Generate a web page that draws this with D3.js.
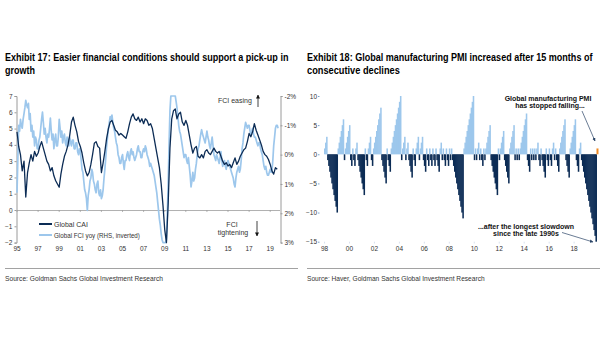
<!DOCTYPE html>
<html><head><meta charset="utf-8">
<script src="https://cdn.jsdelivr.net/npm/d3@7"></script>
<style>
body{margin:0;background:#fff;}
svg{display:block;}
text{font-family:'Liberation Sans Narrow','Arial Narrow','Liberation Sans',Arial,sans-serif;}
</style></head><body>
<svg id="c" width="605" height="341"></svg>
<script>
// ---------- DATA ----------
// Exhibit 17: Global CAI (LHS), bimonthly from Jan 1995
const caiValues = [
 4.8,3.9,3.4,2.4,3.0,0.8,
 2.3,2.9,3.4,3.0,3.6,3.3,
 3.5,3.9,4.2,3.8,3.4,3.0,
 2.8,2.4,2.6,2.1,1.8,1.6,
 1.4,2.2,2.8,3.3,3.6,4.0,
 4.6,5.4,5.7,5.2,4.8,4.2,
 3.9,3.5,2.9,2.4,2.1,2.3,
 2.8,3.4,4.1,4.2,3.9,3.8,
 2.3,2.9,3.6,4.4,5.0,5.4,
 5.5,5.2,4.9,4.8,4.6,4.7,
 4.6,4.5,4.4,4.8,5.3,5.7,
 5.9,5.6,5.5,5.7,5.4,5.6,
 5.3,5.6,5.5,5.2,5.3,5.0,
 4.4,3.8,3.2,2.6,1.6,0.3,
 -1.2,-2.0,0.4,3.8,5.6,6.1,
 6.2,5.6,5.9,6.0,5.4,5.2,
 5.5,5.2,4.6,4.0,3.5,3.8,
 3.9,3.3,3.2,3.4,3.2,3.6,
 3.7,3.5,3.4,3.6,3.8,3.6,
 3.5,3.6,3.3,3.0,2.8,2.9,
 2.7,2.8,2.6,2.9,3.2,2.8,
 3.0,3.3,3.5,3.7,3.8,4.2,
 4.7,4.5,4.8,5.3,4.9,4.6,
 4.3,4.0,3.6,3.4,3.3,3.1,
 2.8,2.4,2.2,2.6,2.5
];
// Global FCI yoy (RHS, inverted, %), monthly from Jan 1995
const fciValues = [
 1.3,0.1,-1.0,-0.8,-1.2,-1.0,-0.9,-1.2,-1.4,-1.6,-1.85,-1.7,
 -1.6,-1.75,-1.2,-1.4,-0.8,-1.0,-0.6,-0.8,-0.3,-0.6,-0.5,-0.2,
 -0.2,-0.5,-0.6,-0.9,-1.2,-1.45,-1.1,-0.7,-0.9,-0.6,-0.4,-0.7,
 -0.6,-0.9,-1.25,-0.8,-0.5,-0.7,-0.2,-0.5,-0.7,-0.3,-0.3,-0.6,
 -1.2,-0.9,-0.6,-0.8,-0.4,-0.6,-0.7,-0.4,-0.3,-0.6,-0.5,-0.3,
 -0.6,-0.4,-0.3,-0.5,-0.5,-0.2,-0.2,-0.4,-0.4,-0.1,0.0,-0.2,
 -0.1,0.2,0.5,0.6,0.9,1.2,1.3,1.5,1.9,1.4,1.2,0.9,
 0.8,0.5,0.6,0.9,1.0,1.2,1.3,1.0,0.9,1.3,1.4,1.2,
 1.5,1.4,1.2,0.8,0.5,0.1,-0.3,-0.6,-0.9,-1.1,-1.3,-1.2,
 -1.35,-1.1,-0.9,-0.8,-0.6,-0.4,-0.3,0.0,0.1,0.3,0.3,0.1,
 0.0,0.3,0.5,0.2,0.2,0.0,-0.1,0.1,0.2,-0.1,-0.2,0.0,
 -0.1,0.1,0.2,0.1,0.0,-0.2,-0.3,-0.1,-0.1,0.1,0.1,-0.1,
 -0.2,-0.1,-0.3,-0.2,0.0,0.1,0.2,0.4,0.3,0.4,0.5,0.6,
 0.7,0.9,1.1,1.3,1.6,1.9,2.2,2.4,2.7,2.9,3.0,3.0,
 3.0,3.0,2.9,2.0,1.0,-0.4,-1.5,-2.0,-2.0,-2.0,-2.0,-2.0,
 -2.0,-1.8,-1.6,-1.3,-1.0,-0.8,-0.7,-0.5,-0.3,-0.1,0.1,0.0,
 0.0,0.2,0.3,0.1,0.4,0.7,1.1,0.9,0.6,0.9,0.8,0.5,
 0.3,0.0,-0.2,-0.3,-0.5,-0.7,-0.85,-0.7,-0.6,-0.5,-0.4,-0.6,
 -0.8,-0.6,-0.5,-0.3,-0.2,-0.4,-0.6,-0.3,0.0,0.1,0.2,0.0,
 0.1,0.2,0.3,0.1,-0.1,0.2,0.4,0.3,0.2,0.4,0.5,0.3,
 0.2,0.3,0.4,0.5,0.6,0.7,0.8,1.0,1.1,0.8,0.6,0.5,
 0.4,0.6,0.5,0.2,-0.2,-0.4,-0.7,-0.9,-1.1,-1.0,-0.9,-1.0,
 -1.0,-0.8,-0.7,-0.8,-0.9,-0.7,-0.6,-0.6,-0.5,-0.4,-0.3,-0.4,
 -0.4,-0.2,-0.1,0.0,0.2,0.4,0.5,0.4,0.6,0.7,0.7,0.6,
 0.5,0.6,0.6,0.2,-0.3,-0.6,-0.9,-1.0,-1.0,-0.9
];
const caiTicks = [-2,-1,0,1,2,3,4,5,6,7];
const fciTicks = [-2,-1,0,1,2,3];
const leftYearLabels = ["95","97","99","01","03","05","07","09","11","13","15","17","19"];

// Exhibit 18: signed run lengths of consecutive monthly increases (+) / declines (-) in global manufacturing PMI, from Jan 1998
const pmiRuns = [
 3,-10,6,-1,5,-2,1,-2,2,-7,1,-2,3,-2,8,-5,1,-3,10,-1,3,-1,2,-4,
 1,-2,3,-1,3,-3,
 1,-2,1,-2,1,-2,1,-3,2,-1,1,-2,1,-2,1,-1,1,
 -11,10,
 -1,1,-1,2,-1,1,-2,1,-1,
 5,-7,1,-1,4,-5,5,
 -1,1,-1,1,-1,
 7,-3,
 1,-1,1,-1,1,-1,2,-2,1,-4,
 1,-2,1,-2,2,-1,1,-3,
 6,-4,6,-3,2,-15,1
];
const pmiTicks = [10,5,0,-5,-10,-15];
const pmiYearLabels = ["98","00","02","04","06","08","10","12","14","16","18"];

// ---------- DRAW ----------
const svg = d3.select("#c");
const navy = "#0c2c55", light = "#9dc7ec", axisCol = "#9a9a9a", txt = "#333";

// place a text and squeeze it horizontally to a target width
function fitText(parent, x, y, s, w, size, weight, fill){
  const t = parent.append("text").attr("x",0).attr("y",0).attr("font-size",size)
    .attr("font-weight",weight).attr("fill",fill).text(s);
  const nat = t.node().getComputedTextLength();
  t.attr("transform",`translate(${x},${y}) scale(${w/nat},1)`);
  return t;
}
fitText(svg,5,60.5,"Exhibit 17: Easier financial conditions should support a pick-up in",284,10,"bold","#000");
fitText(svg,5,73.5,"growth",30,10,"bold","#000");
fitText(svg,307,61,"Exhibit 18: Global manufacturing PMI increased after 15 months of",286,10,"bold","#000");
fitText(svg,307,74,"consecutive declines",93,10,"bold","#000");

svg.append("line").attr("x1",5).attr("x2",298).attr("y1",268.5).attr("y2",268.5).attr("stroke","#8a8a8a").attr("stroke-width",0.8);
svg.append("line").attr("x1",307).attr("x2",600).attr("y1",268.5).attr("y2",268.5).attr("stroke","#8a8a8a").attr("stroke-width",0.8);
fitText(svg,5,280.5,"Source: Goldman Sachs Global Investment Research",158,7,"normal","#333");
fitText(svg,307,280.5,"Source: Haver, Goldman Sachs Global Investment Research",178,7,"normal","#333");

// ===== Left chart =====
const xL = d3.scaleTime().domain([new Date(1995,0,1), new Date(2019,10,1)]).range([17,279]);
const yL = d3.scaleLinear().domain([-2,7]).range([242.6,96]);
const yR = d3.scaleLinear().domain([-2,3]).range([96,242.6]);
const caiDates = caiValues.map((v,i)=>new Date(1995,2*i,1));
const fciDates = fciValues.map((v,i)=>new Date(1995,i,1));

const gL = svg.append("g");
const axL = gL.append("g").attr("transform","translate(16.5,0)").call(d3.axisLeft(yL).tickValues(caiTicks).tickSize(2).tickFormat(d3.format("d")));
axL.select(".domain").attr("stroke",axisCol);
axL.selectAll(".tick line").attr("stroke",axisCol);
axL.selectAll("text").attr("font-size",6.5).attr("fill",txt).attr("x",-4).attr("font-family",null);
const axR = gL.append("g").attr("transform","translate(280.5,0)").call(d3.axisRight(yR).tickValues(fciTicks).tickSize(2).tickFormat(d=>d+"%"));
axR.select(".domain").attr("stroke",axisCol);
axR.selectAll(".tick line").attr("stroke",axisCol);
axR.selectAll("text").attr("font-size",6.5).attr("fill",txt).attr("x",4).attr("font-family",null);
gL.append("line").attr("x1",17).attr("x2",280).attr("y1",yL(0)+0.5).attr("y2",yL(0)+0.5).attr("stroke",axisCol).attr("stroke-width",0.8);
const yearTickDates = leftYearLabels.map((s,i)=>new Date(1995+2*i,0,1));
gL.selectAll(".zt").data(yearTickDates).enter().append("line")
  .attr("x1",d=>xL(d)).attr("x2",d=>xL(d)).attr("y1",yL(0)).attr("y2",yL(0)+2).attr("stroke",axisCol).attr("stroke-width",0.7);
gL.selectAll(".xl").data(leftYearLabels).enter().append("text")
  .attr("x",(d,i)=>xL(yearTickDates[i])).attr("y",251).attr("text-anchor","middle")
  .attr("font-size",6.5).attr("fill",txt).text(d=>d);
const lineF = d3.line().x((d,i)=>xL(fciDates[i])).y(d=>yR(d));
const lineC = d3.line().x((d,i)=>xL(caiDates[i])).y(d=>yL(d));
gL.append("path").datum(fciValues).attr("d",lineF).attr("fill","none").attr("stroke",light).attr("stroke-width",1.7).attr("stroke-linejoin","round");
gL.append("path").datum(caiValues).attr("d",lineC).attr("fill","none").attr("stroke",navy).attr("stroke-width",1.3).attr("stroke-linejoin","round");
gL.append("line").attr("x1",39).attr("x2",52).attr("y1",224).attr("y2",224).attr("stroke",navy).attr("stroke-width",2);
gL.append("line").attr("x1",39).attr("x2",52).attr("y1",235).attr("y2",235).attr("stroke",light).attr("stroke-width",2);
gL.append("text").attr("x",54).attr("y",226.5).attr("font-size",7).attr("fill",txt).text("Global CAI");
fitText(gL,54,237.5,"Global FCI yoy (RHS, inverted)",86,7,"normal",txt);
const defs = svg.append("defs");
defs.append("marker").attr("id","ah").attr("viewBox","0 0 10 10").attr("refX",9).attr("refY",5)
  .attr("markerWidth",5).attr("markerHeight",5).attr("orient","auto")
  .append("path").attr("d","M0,0L10,5L0,10z").attr("fill","#111");
defs.append("marker").attr("id","ah2").attr("viewBox","0 0 10 10").attr("refX",9).attr("refY",5)
  .attr("markerWidth",5).attr("markerHeight",5).attr("orient","auto")
  .append("path").attr("d","M0,0L10,5L0,10z").attr("fill","#2a4466");
gL.append("text").attr("x",218).attr("y",103).attr("font-size",7).attr("fill",txt).text("FCI easing");
gL.append("line").attr("x1",258).attr("x2",258).attr("y1",107).attr("y2",95).attr("stroke","#111").attr("stroke-width",0.8).attr("marker-end","url(#ah)");
gL.append("text").attr("x",232).attr("y",227).attr("font-size",7).attr("fill",txt).attr("text-anchor","middle").text("FCI");
gL.append("text").attr("x",233).attr("y",234.5).attr("font-size",7).attr("fill",txt).attr("text-anchor","middle").text("tightening");
gL.append("line").attr("x1",257).attr("x2",257).attr("y1",221).attr("y2",236).attr("stroke","#111").attr("stroke-width",0.8).attr("marker-end","url(#ah)");

// ===== Right chart =====
const pmiMonthly = [];
pmiRuns.forEach(r=>{const s=Math.sign(r); for(let k=1;k<=Math.abs(r);k++) pmiMonthly.push(s*k);});
const xB = d3.scaleBand().domain(d3.range(pmiMonthly.length)).range([324, 324+pmiMonthly.length*1.04]).padding(0);
const yB = d3.scaleLinear().domain([-15,10]).range([241.7,96]);
const gR = svg.append("g");
const axB = gR.append("g").attr("transform","translate(319.5,0)").call(d3.axisLeft(yB).tickValues(pmiTicks).tickSize(1.5));
axB.select(".domain").remove();
axB.selectAll(".tick line").attr("stroke","#7aa0c8");
axB.selectAll("text").attr("font-size",6.5).attr("fill",txt).attr("x",-2.5).attr("font-family",null);
const last = pmiMonthly.length-1;
gR.selectAll(".bar").data(pmiMonthly).enter().append("rect")
  .attr("x",(d,i)=>xB(i)).attr("width",(d,i)=> i===last?2:xB.bandwidth()+0.5)
  .attr("y",d=>d>0?yB(d):yB(0)).attr("height",d=>Math.abs(yB(d)-yB(0)))
  .attr("fill",(d,i)=> i===last?"#f08a24":(d>0?light:navy));
gR.selectAll(".xb").data(pmiYearLabels).enter().append("text")
  .attr("x",(d,i)=>xB(i*24)+xB.bandwidth()/2).attr("y",251).attr("text-anchor","middle")
  .attr("font-size",6.5).attr("fill",txt).text(d=>d);
gR.selectAll(".xbt").data(pmiYearLabels).enter().append("line")
  .attr("x1",(d,i)=>xB(i*24)+xB.bandwidth()/2).attr("x2",(d,i)=>xB(i*24)+xB.bandwidth()/2)
  .attr("y1",241.7).attr("y2",243.5).attr("stroke","#c9d6e6").attr("stroke-width",0.7);
gR.append("text").attr("x",548).attr("y",100.5).attr("font-size",7).attr("font-weight","bold").attr("fill","#111").attr("text-anchor","middle").text("Global manufacturing PMI");
gR.append("text").attr("x",550).attr("y",107.8).attr("font-size",7).attr("font-weight","bold").attr("fill","#111").attr("text-anchor","middle").text("has stopped falling...");
gR.append("line").attr("x1",582).attr("y1",111).attr("x2",595).attr("y2",141).attr("stroke","#2a4466").attr("stroke-width",0.7).attr("marker-end","url(#ah2)");
gR.append("text").attr("x",526).attr("y",228.5).attr("font-size",7).attr("font-weight","bold").attr("fill","#111").attr("text-anchor","middle").text("...after the longest slowdown");
gR.append("text").attr("x",526).attr("y",236).attr("font-size",7).attr("font-weight","bold").attr("fill","#111").attr("text-anchor","middle").text("since the late 1990s");
gR.append("line").attr("x1",562).attr("y1",232.5).attr("x2",593).attr("y2",242).attr("stroke","#2a4466").attr("stroke-width",0.7).attr("marker-end","url(#ah2)");
</script>
</body></html>
